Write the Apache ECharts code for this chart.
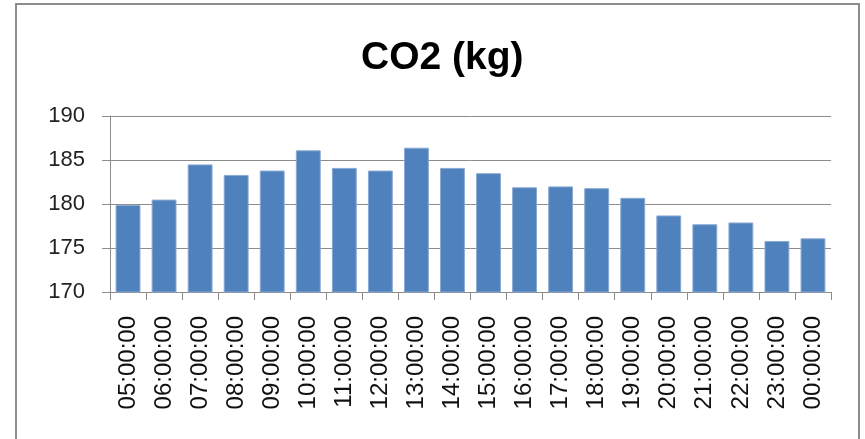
<!DOCTYPE html>
<html>
<head>
<meta charset="utf-8">
<script src="https://cdn.jsdelivr.net/npm/echarts@6/dist/echarts.min.js"></script>
<style>
  html, body { margin: 0; padding: 0; background: #fff; }
  #chart { width: 865px; height: 439px; }
</style>
</head>
<body>
<div id="chart"></div>
<script>
// Hourly CO2 output (kg)
const hours = [
  '05:00:00', '06:00:00', '07:00:00', '08:00:00', '09:00:00',
  '10:00:00', '11:00:00', '12:00:00', '13:00:00', '14:00:00',
  '15:00:00', '16:00:00', '17:00:00', '18:00:00', '19:00:00',
  '20:00:00', '21:00:00', '22:00:00', '23:00:00', '00:00:00'
];
const co2Kg = [
  179.9, 180.5, 184.5, 183.3, 183.8,
  186.1, 184.1, 183.8, 186.4, 184.1,
  183.5, 181.9, 182.0, 181.8, 180.7,
  178.7, 177.7, 177.9, 175.8, 176.1
];
const yMin = 170, yMax = 190, yStep = 5;

const font = "'Liberation Sans', Arial, sans-serif";
const chart = echarts.init(document.getElementById('chart'));
chart.setOption({
  animation: false,
  backgroundColor: '#fff',
  title: {
    text: 'CO2 (kg)',
    left: 356,
    top: 34,
    textStyle: { fontFamily: font, fontSize: 39, fontWeight: 'bold', color: '#000' }
  },
  graphic: [{
    type: 'rect',
    shape: { x: 16, y: 4, width: 843, height: 450 },
    style: { fill: 'none', stroke: '#8c8c8c', lineWidth: 2 },
    silent: true
  }],
  grid: { left: 110, right: 34, top: 116, bottom: 147 },
  xAxis: {
    type: 'category',
    data: hours,
    boundaryGap: true,
    axisLine: { lineStyle: { color: '#8c8c8c', width: 1 } },
    axisTick: { show: true, length: 8, lineStyle: { color: '#8c8c8c' } },
    axisLabel: {
      rotate: 90,
      margin: 24,
      fontFamily: font,
      fontSize: 24,
      color: '#111'
    }
  },
  yAxis: {
    type: 'value',
    min: yMin,
    max: yMax,
    interval: yStep,
    axisLine: { show: true, lineStyle: { color: '#8c8c8c', width: 1 } },
    axisTick: { show: true, length: 8, lineStyle: { color: '#8c8c8c' } },
    axisLabel: { margin: 25, fontFamily: font, fontSize: 22, color: '#222' },
    splitLine: { lineStyle: { color: '#8c8c8c', width: 1 } }
  },
  series: [{
    type: 'bar',
    data: co2Kg,
    barCategoryGap: '31%',
    itemStyle: { color: '#4f81bd', borderColor: '#8aa9d3', borderWidth: 1 }
  }]
});
</script>
</body>
</html>
